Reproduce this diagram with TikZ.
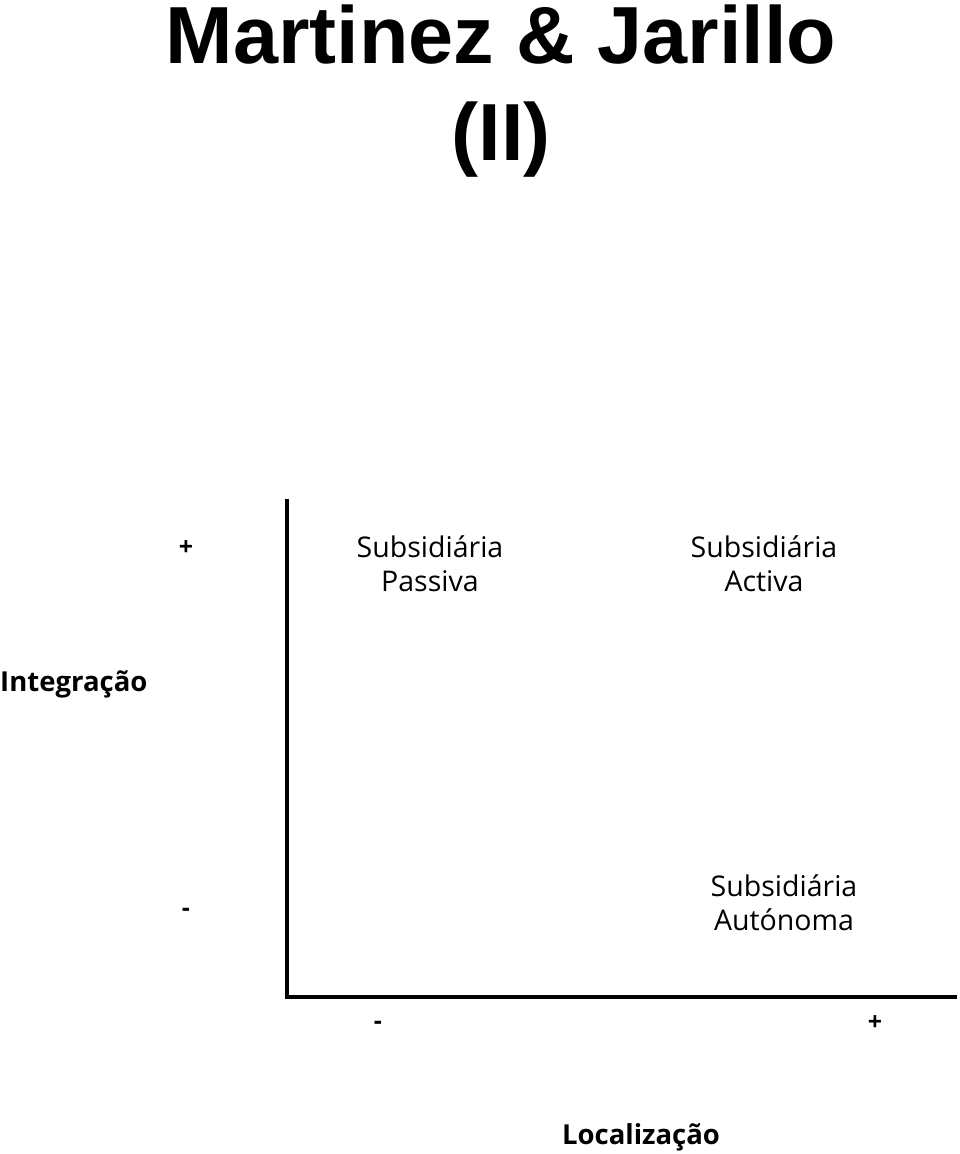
\documentclass[tikz,border=0pt]{standalone}
\usepackage{fontspec}
\setmainfont{Liberation Sans}
\newfontfamily\quadfont{Open Sans}
\usetikzlibrary{positioning}

\begin{document}
\begin{tikzpicture}[
    x=1pt, y=-1pt,
    title/.style={font=\fontsize{81}{98}\selectfont\bfseries, inner sep=0pt, anchor=base},
    quad/.style={font=\quadfont\fontsize{28.5}{34}\selectfont, align=center, inner sep=0pt},
    sign/.style={font=\quadfont\bfseries\fontsize{25}{25}\selectfont, inner sep=0pt},
    axislabel/.style={font=\quadfont\bfseries\fontsize{27.5}{27.5}\selectfont, inner sep=0pt},
    axis/.style={line width=4pt, line cap=rect}
]
\useasboundingbox (0,0) rectangle (960,1154);

% title
\node[title] (tline1) at (501,63) {Martinez \& Jarillo};
\node[title] (tline2) at (501,160) {(II)};

% axes
\coordinate (origin) at (287,997);
\coordinate (ytop) at (287,501);
\coordinate (xend) at (955,997);
\draw[axis] (ytop) -- (origin) -- (xend);

% quadrants
\node[quad] (passiva) at (430,564) {Subsidiária\\Passiva};
\node[quad] (activa) at (764,564) {Subsidiária\\Activa};
\node[quad] (autonoma) at (784,903) {Subsidiária\\Autónoma};

% axis signs and names
\node[sign] (yplus) at (186,548) {+};
\node[sign] (yminus) at (186,912) {-};
\node[sign] (xminus) at (378,1025) {-};
\node[sign] (xplus) at (875,1023) {+};
\node[axislabel, anchor=west] (integ) at (0,684) {Integração};
\node[axislabel] (local) at (641,1137) {Localização};
\end{tikzpicture}
\end{document}
